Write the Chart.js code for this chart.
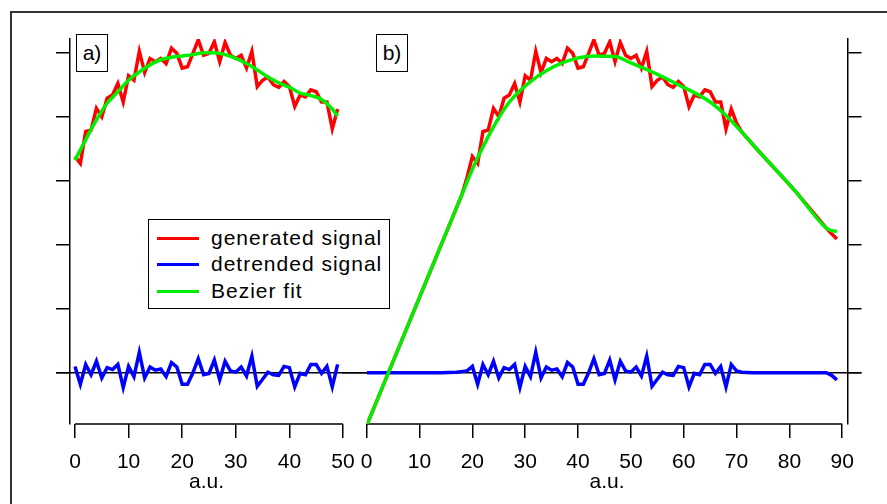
<!DOCTYPE html>
<html>
<head>
<meta charset="utf-8">
<script src="https://cdn.jsdelivr.net/npm/chart.js@4.4.1/dist/chart.umd.min.js"></script>
<style>
html, body { margin: 0; padding: 0; background: #fff; overflow: hidden; }
#wrap { position: relative; width: 887px; height: 504px; font-family: "Liberation Sans", Arial, sans-serif; }
#frame { position: absolute; left: 10px; top: 11px; width: 900px; height: 600px; border-left: 2px solid #333; border-top: 2px solid #333; }
canvas { position: absolute; top: 0; }
#cA { left: 0; }
#cB { left: 342px; }
.tag { position: absolute; top: 34px; height: 38px; box-sizing: border-box; border: 1.5px solid #000; background: #fff;
       font-size: 21px; line-height: 35px; text-align: center; }
#legend { position: absolute; left: 148px; top: 219px; width: 242px; height: 90px; box-sizing: border-box;
          border: 1.5px solid #000; background: #fff; }
.row { position: absolute; left: 0; width: 100%; height: 26px; font-size: 21px; line-height: 26px; letter-spacing: 1px; white-space: nowrap; }
.row i { position: absolute; left: 8px; top: 12px; width: 42px; height: 3px; }
.row span { position: absolute; left: 62px; }
</style>
</head>
<body>
<div id="wrap">
  <div id="frame"></div>
  <canvas id="cA" width="373" height="504"></canvas>
  <canvas id="cB" width="545" height="504"></canvas>
  <div class="tag" style="left:76px;width:32px;">a)</div>
  <div class="tag" style="left:376px;width:32px;">b)</div>
  <div id="legend"></div>
</div>
<script>
// ----- DATA -----
const xTicksA = [0, 10, 20, 30, 40, 50];
const xTicksB = [0, 10, 20, 30, 40, 50, 60, 70, 80, 90];
const yTicks = [0, 1, 2, 3, 4, 5];
const axisTitle = "a.u.";
const seriesNames = ["generated signal", "detrended signal", "Bezier fit"];
const seriesColors = ["#ff0000", "#0000ff", "#00ee00"];

// panel a: x = 0..49
const signalA = [3.38, 3.27, 3.77, 3.79, 4.13, 4.00, 4.29, 4.34, 4.52, 4.23,
                 4.64, 4.57, 5.02, 4.69, 4.91, 4.86, 4.91, 4.83, 5.07, 4.99,
                 4.76, 4.78, 4.99, 5.20, 4.96, 4.99, 5.17, 4.86, 5.16, 4.96,
                 4.91, 4.96, 4.76, 5.02, 4.47, 4.57, 4.62, 4.50, 4.46, 4.55,
                 4.47, 4.16, 4.34, 4.31, 4.42, 4.39, 4.23, 4.23, 3.81, 4.12];
const detrendA = [0.10, -0.18, 0.13, -0.03, 0.18, -0.08, 0.08, 0.05, 0.13, -0.23,
                  0.10, -0.06, 0.32, -0.08, 0.09, 0.04, 0.06, -0.06, 0.16, 0.09,
                  -0.18, -0.18, 0.00, 0.22, -0.03, -0.01, 0.20, -0.11, 0.18, 0.03,
                  0.01, 0.09, -0.05, 0.26, -0.21, -0.10, 0.01, -0.03, -0.04, 0.10,
                  0.08, -0.22, -0.01, -0.03, 0.13, 0.13, -0.01, 0.10, -0.22, 0.13];
const fitAx = [0, 2, 4, 6, 8, 10, 12, 14, 16, 18, 20, 22, 24, 26, 28, 30, 32, 34, 36, 38, 40, 42, 44, 46, 48, 49];
const fitAy = [3.32, 3.64, 3.95, 4.21, 4.39, 4.57, 4.70, 4.81, 4.89, 4.93, 4.95, 4.97, 5.00, 5.00, 4.97,
               4.91, 4.83, 4.73, 4.62, 4.53, 4.46, 4.37, 4.33, 4.27, 4.12, 4.01];

// panel b: same signal placed at x = 20..69, with ramps before and after
const shiftB = 20;
const headBx = [0, 18, 19];
const headBy = [-0.82, 2.78, 3.05];
const tailBx = [70, 71, 74, 81, 87, 88, 89];
const tailBy = [3.90, 3.76, 3.48, 2.85, 2.26, 2.17, 2.09];
const detHeadBx = [0, 14, 17, 19];
const detHeadBy = [0, 0, 0.01, 0.03];
const detTailBx = [70, 71, 73, 87, 88, 89];
const detTailBy = [0.03, 0.01, 0, 0, -0.04, -0.11];
const fitBx = [0, 4, 9, 13, 18, 20, 24, 27, 31, 37, 43, 47, 50, 54, 59, 65, 68, 71, 74, 81, 87, 88, 89];
const fitBy = [-0.82, -0.02, 0.98, 1.78, 2.78, 3.18, 3.84, 4.23, 4.55, 4.84, 4.95, 4.94, 4.84, 4.70,
               4.50, 4.23, 4.02, 3.76, 3.48, 2.85, 2.26, 2.22, 2.21];

// ----- HELPERS -----
const pts = (xs, ys) => xs.map((x, i) => ({ x: x, y: ys[i] }));
const seq = (vals, off) => vals.map((v, i) => ({ x: i + off, y: v }));
const FONT = { family: "Liberation Sans", size: 21 };

// axis line along the ticks + zero line across the panels
const axisLines = {
    id: "axisLines",
    beforeDatasetsDraw(chart, args, opts) {
        const ctx = chart.ctx;
        const x = chart.scales.x, y = chart.scales.y;
        const t = x.ticks;
        const y0 = y.getPixelForValue(0);
        ctx.save();
        ctx.strokeStyle = "#000";
        ctx.lineWidth = 1.5;
        ctx.beginPath();
        ctx.moveTo(x.getPixelForValue(t[0].value), x.top);
        ctx.lineTo(x.getPixelForValue(t[t.length - 1].value), x.top);
        ctx.moveTo(opts.side === "left" ? y.left : 0, y0);
        ctx.lineTo(opts.side === "left" ? chart.width : y.right, y0);
        ctx.stroke();
        ctx.restore();
    }
};

function lineSet(i, data, smooth) {
    return {
        label: seriesNames[i], data: data, borderColor: seriesColors[i],
        borderWidth: 3.5, pointRadius: 0, fill: false,
        cubicInterpolationMode: smooth ? "monotone" : "default", tension: 0
    };
}

function xScale(min, max, ticks) {
    return {
        type: "linear", min: min, max: max,
        afterBuildTicks: s => { s.ticks = ticks.map(v => ({ value: v })); },
        afterFit: s => { s.height = 80; },
        grid: { display: true, drawOnChartArea: false, drawTicks: true, tickLength: 14, color: "#000", lineWidth: 1.5 },
        border: { display: false },
        ticks: { color: "#000", font: FONT, padding: 12, maxRotation: 0, autoSkip: false },
        title: { display: true, text: axisTitle, color: "#000", font: FONT, padding: { top: 0, bottom: 9 } }
    };
}

function yScale(pos) {
    return {
        type: "linear", position: pos, min: -0.8, max: 5.214,
        afterBuildTicks: s => { s.ticks = yTicks.map(v => ({ value: v })); },
        afterFit: s => { s.width = 14; },
        grid: { drawOnChartArea: false, drawTicks: true, tickLength: 14, color: "#000", lineWidth: 1.5 },
        border: { display: true, color: "#000", width: 1.5 },
        ticks: { display: false }
    };
}

// ----- PANEL A -----
new Chart(document.getElementById("cA"), {
    type: "line",
    data: {
        datasets: [
            lineSet(2, pts(fitAx, fitAy), true),
            lineSet(1, seq(detrendA, 0), false),
            lineSet(0, seq(signalA, 0), false)
        ]
    },
    options: {
        responsive: false, animation: false, devicePixelRatio: 1,
        layout: { padding: { left: 56, right: 30, top: 39, bottom: 0 } },
        scales: { x: xScale(-0.93, 50, xTicksA), y: yScale("left") },
        plugins: { legend: { display: false }, tooltip: { enabled: false }, axisLines: { side: "left" } }
    },
    plugins: [axisLines]
});

// ----- PANEL B -----
const signalB = pts(headBx, headBy).concat(seq(signalA, shiftB), pts(tailBx, tailBy));
const detrendB = pts(detHeadBx, detHeadBy).concat(seq(detrendA, shiftB), pts(detTailBx, detTailBy));

new Chart(document.getElementById("cB"), {
    type: "line",
    data: {
        datasets: [
            lineSet(2, pts(fitBx, fitBy), true),
            lineSet(1, detrendB, false),
            lineSet(0, signalB, false)
        ]
    },
    options: {
        responsive: false, animation: false, devicePixelRatio: 1,
        layout: { padding: { left: 24.7, right: 25.5, top: 39, bottom: 0 } },
        scales: { x: xScale(0, 91, xTicksB), y: yScale("right") },
        plugins: { legend: { display: false }, tooltip: { enabled: false }, axisLines: { side: "right" } }
    },
    plugins: [axisLines]
});

// ----- LEGEND -----
const legend = document.getElementById("legend");
const rowTops = [5, 31, 57.5];
seriesNames.forEach((name, i) => {
    legend.innerHTML += `
        <div class="row" style="top:${rowTops[i]}px">
            <i style="background:${seriesColors[i]}"></i><span>${name}</span>
        </div>`;
});
</script>
</body>
</html>
